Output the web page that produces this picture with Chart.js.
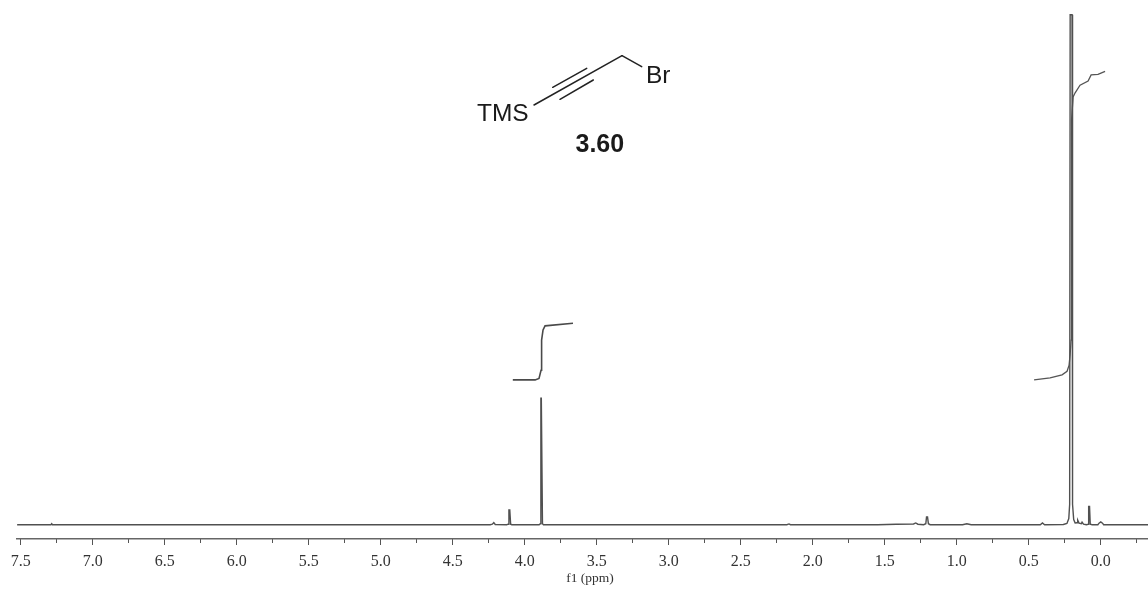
<!DOCTYPE html>
<html><head><meta charset="utf-8">
<style>html,body{margin:0;padding:0;background:#fff}#w{position:relative;width:1148px;height:589px}</style>
<script src="https://cdn.jsdelivr.net/npm/chart.js@4/dist/chart.umd.min.js"></script>
</head><body><div id="w"><canvas id="c" width="1148" height="589"></canvas></div>
<script>
const spectrumPpm = [7.525,7.29,7.285,7.28,7.27,4.24,4.225,4.215,4.205,4.125,4.115,4.11,4.104,4.098,4.09,3.90,3.892,3.888,3.885,3.881,3.877,3.87,2.18,2.165,2.155,1.55,1.42,1.30,1.285,1.27,1.23,1.215,1.21,1.203,1.197,1.185,0.96,0.93,0.90,0.42,0.405,0.39,0.26,0.235,0.222,0.216,0.2125,0.206,0.1995,0.196,0.188,0.178,0.165,0.160,0.150,0.135,0.130,0.120,0.10,0.088,0.084,0.078,0.073,0.06,0.02,0.012,0.0,-0.012,-0.02,-0.328];
const spectrumInt = [0,0,0.2,0,0,0,0.1,0.4,0.05,0,0.1,2.9,2.9,0.1,0,0,0.2,24.8,24.8,24.8,0.2,0,0,0.15,0,0,0.1,0.15,0.35,0.1,0,0.2,1.5,1.5,0.2,0,0,0.2,0,0,0.35,0,0.05,0.25,1.2,4,100,100,100,4,1,0.35,0.4,0.9,0.3,0.2,0.5,0.1,0,0.1,3.6,3.6,0.1,0,0,0.3,0.55,0.3,0,0];
const integralAPpm = [4.083,3.928,3.901,3.887,3.883,3.873,3.859,3.665];
const integralAVal = [28.4,28.4,28.7,30.3,36.2,38.2,39.0,39.5];
const integralBPpm = [0.463,0.352,0.269,0.234,0.220,0.213,0.206,0.203,0.192,0.178,0.144,0.088,0.067,0.019,-0.030];
const integralBVal = [28.4,28.8,29.4,30.1,31.3,33.3,36.2,79.4,83.9,84.7,86.2,87.0,88.2,88.3,88.9];
const axisMax = 7.526, axisMin = -0.328;
const axisTitle = "f1 (ppm)";
const structureLabels = { left: "TMS", right: "Br", id: "3.60" };

const zip = (xs, ys) => xs.map((x, i) => ({ x, y: ys[i] }));

const overlay = {
  id: 'overlay',
  afterDraw(chart) {
    const g = chart.ctx;
    g.save();
    g.strokeStyle = '#222'; g.lineWidth = 1.5; g.lineCap = 'round';
    [[534,105,622,55.7],[622,55.7,641.7,66.7],[552.7,87.3,586.7,68.3],[560,99.3,593.3,80]].forEach(s => {
      g.beginPath(); g.moveTo(s[0], s[1]); g.lineTo(s[2], s[3]); g.stroke();
    });
    g.fillStyle = '#1a1a1a'; g.textBaseline = 'alphabetic'; g.textAlign = 'left';
    g.font = '24.5px "Liberation Sans"';
    g.fillText(structureLabels.left, 477, 120.7);
    g.fillText(structureLabels.right, 646, 82.7);
    g.font = 'bold 25px "Liberation Sans"';
    g.fillText(structureLabels.id, 575.5, 151.7);
    g.fillStyle = '#333'; g.textAlign = 'center';
    g.font = '13.5px "Liberation Serif"';
    g.fillText(axisTitle, 590, 582);
    g.restore();
  }
};

new Chart(document.getElementById('c'), {
  type: 'line',
  data: { datasets: [
    { label: 'Spectrum', data: zip(spectrumPpm, spectrumInt), borderColor: '#505050', borderWidth: 1.4 },
    { label: 'Integral 3.88', data: zip(integralAPpm, integralAVal), borderColor: '#4a4a4a', borderWidth: 1.6 },
    { label: 'Integral 0.21', data: zip(integralBPpm, integralBVal), borderColor: '#555', borderWidth: 1.3 }
  ]},
  options: {
    responsive: false, animation: false, parsing: false,
    layout: { padding: { left: 17, right: 0, top: 0, bottom: 0 } },
    elements: { point: { radius: 0 }, line: { tension: 0 } },
    plugins: { legend: { display: false }, tooltip: { enabled: false } },
    scales: {
      y: { display: false, min: -2.8, max: 102.9 },
      x: {
        type: 'linear', reverse: true, min: axisMin, max: axisMax, position: 'bottom',
        afterFit: s => { s.height = 50; },
        grid: { drawOnChartArea: false, drawTicks: true, tickLength: 6, tickWidth: 1, tickColor: '#555' },
        border: { display: true, color: '#666', width: 1.4 },
        ticks: { stepSize: 0.5, includeBounds: false, autoSkip: false, maxRotation: 0, padding: 7,
          color: '#333', font: { family: 'Liberation Serif', size: 16 },
          callback: v => v.toFixed(1) }
      },
      xMinor: {
        type: 'linear', reverse: true, min: axisMin, max: axisMax, position: { y: -2.8 },
        grid: { drawOnChartArea: false, tickLength: 4, tickWidth: 1, tickColor: '#555' },
        border: { display: false },
        ticks: { stepSize: 0.25, includeBounds: false, autoSkip: false, maxRotation: 0, callback: () => '' }
      }
    }
  },
  plugins: [overlay]
});
</script></body></html>
